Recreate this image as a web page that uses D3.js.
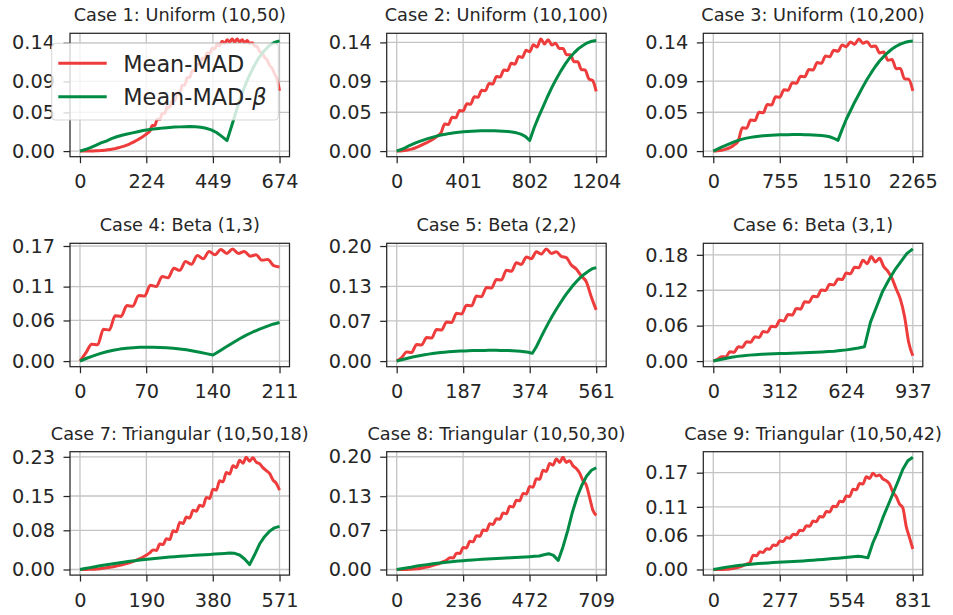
<!DOCTYPE html>
<html>
<head>
<meta charset="utf-8">
<script src="https://cdn.jsdelivr.net/npm/d3@7"></script>
<style>
  html, body { margin: 0; padding: 0; background: #ffffff; }
  svg { display: block; font-family: "DejaVu Sans", sans-serif; }
</style>
</head>
<body>
<svg id="chart" width="953" height="615"></svg>
<script>
// ---- data ---------------------------------------------------------------
const caseTitles = [
  "Case 1: Uniform (10,50)", "Case 2: Uniform (10,100)", "Case 3: Uniform (10,200)",
  "Case 4: Beta (1,3)", "Case 5: Beta (2,2)", "Case 6: Beta (3,1)",
  "Case 7: Triangular (10,50,18)", "Case 8: Triangular (10,50,30)", "Case 9: Triangular (10,50,42)"
];
const caseXMax = [674, 1204, 2265, 211, 561, 937, 571, 709, 831];
const xTickLabels = [
  [0, 224, 449, 674], [0, 401, 802, 1204], [0, 755, 1510, 2265],
  [0, 70, 140, 211], [0, 187, 374, 561], [0, 312, 624, 937],
  [0, 190, 380, 571], [0, 236, 472, 709], [0, 277, 554, 831]
];
const yTickLabels = [
  [0, 0.05, 0.09, 0.14], [0, 0.05, 0.09, 0.14], [0, 0.05, 0.09, 0.14],
  [0, 0.06, 0.11, 0.17], [0, 0.07, 0.13, 0.20], [0, 0.06, 0.12, 0.18],
  [0, 0.08, 0.15, 0.23], [0, 0.07, 0.13, 0.20], [0, 0.06, 0.11, 0.17]
];
const seriesNames = ["Mean-MAD", "Mean-MAD-"];

// each series is sampled at evenly spaced points from 0 to the case's x maximum
const madCase1 = [0,0,0,0,0.0001,0.0001,0.0003,0.0004,0.0006,0.0008,0.0012,0.0016,0.0020,0.0026,0.0032,0.0040,0.0048,0.0058,0.0068,0.0080,0.0094,0.0109,0.0125,0.0143,0.0162,0.0183,0.0206,0.0231,0.0257,
  0.033,0.033,0.041,0.041,0.049,0.049,0.057,0.057,0.065,0.065,0.075,0.075,0.085,0.085,0.095,0.095,0.104,0.104,0.112,0.112,0.120,0.120,0.127,0.126,0.133,0.132,0.138,0.136,0.142,0.139,0.144,0.141,0.145,0.141,0.145,0.141,0.144,0.140,0.143,0.139,0.140,0.136,0.135,0.129,0.127,0.121,0.118,0.111,0.107,0.100,0.093,0.078];
const madBetaCase1 = [0,0.002,0.0045,0.0075,0.0105,0.013,0.016,0.0185,0.0205,0.022,0.0235,0.025,0.0265,0.0275,0.0285,0.0293,0.030,0.0305,0.031,0.0313,0.0316,0.0318,0.0315,0.0308,0.0295,0.0275,0.024,0.019,0.0135,0.035,0.057,0.077,0.094,0.108,0.120,0.129,0.136,0.1405,0.1425];

const madCase2 = [0,0.0002,0.0006,0.0013,0.0025,0.0040,0.0060,0.0082,0.0105,0.0130,0.0160,0.0195,0.0235,0.0350,0.0343,0.0437,0.0430,0.0524,0.0517,0.0610,0.0603,0.0700,0.0693,0.0785,0.0778,0.0870,0.0863,0.0960,0.0953,0.1046,0.1038,0.1130,0.1120,0.1220,0.1205,0.1300,0.1280,0.1370,0.1340,0.1445,0.1380,0.1435,0.1365,0.1390,0.1320,0.1320,0.1240,0.1240,0.1150,0.1150,0.1050,0.1045,0.0930,0.0910,0.0770];
const madBetaCase2 = [0,0.002,0.0045,0.0075,0.0100,0.0122,0.0142,0.0160,0.0177,0.0193,0.0207,0.0218,0.0228,0.0236,0.0243,0.0249,0.0253,0.0257,0.0260,0.0262,0.0263,0.0263,0.0262,0.0260,0.0257,0.0252,0.0245,0.0235,0.0218,0.0190,0.0136,0.030,0.044,0.057,0.070,0.082,0.093,0.103,0.112,0.120,0.1265,0.132,0.136,0.1395,0.1415,0.1425];

const madCase3 = [0,0.0003,0.0010,0.0025,0.0045,0.0078,0.0130,0.0300,0.0295,0.0400,0.0393,0.0500,0.0493,0.0600,0.0593,0.0700,0.0693,0.0790,0.0783,0.0880,0.0873,0.0965,0.0958,0.1050,0.1043,0.1140,0.1130,0.1225,0.1215,0.1300,0.1285,0.1365,0.1345,0.1405,0.1375,0.1445,0.1390,0.1410,0.1345,0.1355,0.1265,0.1275,0.1170,0.1180,0.1060,0.1065,0.0930,0.0925,0.0775];
const madBetaCase3 = [0,0.0025,0.0051,0.0075,0.0097,0.0118,0.0138,0.0154,0.0167,0.0177,0.0186,0.0192,0.0197,0.0201,0.0204,0.0207,0.0209,0.0211,0.0212,0.0213,0.0213,0.0213,0.0212,0.0210,0.0208,0.0205,0.0201,0.0195,0.0185,0.0165,0.0138,0.028,0.041,0.052,0.063,0.073,0.083,0.0925,0.101,0.109,0.116,0.122,0.127,0.1315,0.135,0.1378,0.1398,0.1412,0.1418];

const madCase4 = [0,0.012,0.025,0.024,0.047,0.046,0.067,0.066,0.082,0.081,0.097,0.096,0.112,0.110,0.125,0.123,0.137,0.134,0.147,0.143,0.156,0.151,0.162,0.157,0.165,0.159,0.1657,0.159,0.162,0.155,0.157,0.149,0.150,0.141,0.139];
const madBetaCase4 = [0,0.0042,0.0076,0.0110,0.0138,0.0160,0.0177,0.0190,0.0198,0.0203,0.0206,0.0205,0.0202,0.0197,0.0189,0.0179,0.0166,0.0150,0.0131,0.0110,0.0089,0.0150,0.0212,0.0272,0.0330,0.0383,0.0430,0.0472,0.0508,0.0545,0.0570];

const madCase5 = [0,0.006,0.016,0.015,0.029,0.028,0.041,0.040,0.055,0.054,0.068,0.067,0.083,0.082,0.097,0.096,0.113,0.112,0.128,0.127,0.142,0.141,0.158,0.156,0.171,0.168,0.181,0.178,0.190,0.186,0.195,0.187,0.190,0.182,0.180,0.167,0.160,0.148,0.138,0.112,0.089];
const madBetaCase5 = [0,0.0019,0.0037,0.0054,0.0070,0.0085,0.0098,0.0110,0.0121,0.0131,0.0140,0.0148,0.0155,0.0161,0.0166,0.0170,0.0174,0.0177,0.0180,0.0182,0.0184,0.0185,0.0186,0.0187,0.0187,0.0187,0.0186,0.0185,0.0183,0.0180,0.0176,0.0171,0.0164,0.0154,0.0135,0.0250,0.0390,0.0530,0.0660,0.0785,0.0900,0.1010,0.1115,0.1210,0.1300,0.1380,0.1450,0.1510,0.1560,0.1605,0.1625];

const madCase6 = [0,0.003,0.0074,0.007,0.0158,0.015,0.0243,0.0235,0.0328,0.032,0.0413,0.040,0.050,0.049,0.059,0.058,0.069,0.068,0.079,0.078,0.089,0.088,0.1005,0.0995,0.110,0.109,0.1205,0.1195,0.130,0.129,0.139,0.138,0.149,0.148,0.159,0.158,0.171,0.165,0.177,0.168,0.174,0.160,0.152,0.140,0.122,0.105,0.076,0.032,0.009];
const madBetaCase6 = [0,0.0022,0.0045,0.0065,0.0080,0.0092,0.0101,0.0108,0.0114,0.0119,0.0123,0.0127,0.0130,0.0133,0.0137,0.0141,0.0145,0.0150,0.0155,0.0161,0.0168,0.0178,0.0190,0.0205,0.0222,0.0243,0.066,0.092,0.118,0.137,0.154,0.168,0.182,0.190];

const madCase7 = [0,0,0.0001,0.0003,0.0005,0.0010,0.0017,0.0025,0.0035,0.0046,0.0058,0.0071,0.0085,0.0102,0.0120,0.0142,0.0165,0.0192,0.0220,0.0255,0.0295,0.0340,0.0400,0.0390,0.0520,0.0510,0.0630,0.0610,0.0790,0.0770,0.0960,0.0940,0.1070,0.1050,0.1210,0.1190,0.1310,0.1290,0.1470,0.1450,0.1640,0.1620,0.1810,0.1790,0.1980,0.1950,0.2120,0.2080,0.2230,0.2170,0.2290,0.2210,0.2280,0.2190,0.2160,0.2080,0.2020,0.1960,0.1830,0.1760,0.1620];
const madBetaCase7 = [0,0.0019,0.0038,0.0057,0.0075,0.0092,0.0108,0.0124,0.0139,0.0153,0.0167,0.0180,0.0192,0.0204,0.0215,0.0225,0.0235,0.0244,0.0253,0.0261,0.0269,0.0276,0.0283,0.0290,0.0296,0.0302,0.0308,0.0314,0.0320,0.0328,0.0335,0.0330,0.0295,0.0215,0.0100,0.0300,0.0520,0.0670,0.0780,0.0850,0.0880];

const madCase8 = [0,0,0.0001,0.0002,0.0005,0.0008,0.0013,0.0019,0.0030,0.0042,0.0056,0.0072,0.0090,0.0110,0.0140,0.0165,0.0210,0.0205,0.0290,0.0285,0.0390,0.0383,0.0500,0.0490,0.0600,0.0590,0.0700,0.0690,0.0810,0.0800,0.0900,0.0890,0.1000,0.0990,0.1120,0.1110,0.1230,0.1220,0.1350,0.1340,0.1470,0.1460,0.1610,0.1600,0.1760,0.1740,0.1880,0.1850,0.1960,0.1900,0.1990,0.1900,0.1930,0.1840,0.1790,0.1710,0.1580,0.1500,0.1280,0.1050,0.0960];
const madBetaCase8 = [0,0.0014,0.0028,0.0041,0.0056,0.0069,0.0082,0.0094,0.0105,0.0115,0.0124,0.0133,0.0141,0.0149,0.0156,0.0163,0.0169,0.0175,0.0181,0.0186,0.0191,0.0196,0.0200,0.0204,0.0208,0.0212,0.0217,0.0222,0.0228,0.0234,0.0240,0.0260,0.0280,0.0250,0.0160,0.0400,0.0690,0.1020,0.1290,0.1500,0.1660,0.1760,0.1805];

const madCase9 = [0,0,0.0001,0.0002,0.0005,0.0008,0.0018,0.0030,0.0048,0.0070,0.0095,0.0120,0.0250,0.0240,0.0310,0.0300,0.0365,0.0355,0.0430,0.0420,0.0500,0.0490,0.0560,0.0550,0.0620,0.0610,0.0690,0.0680,0.0770,0.0760,0.0850,0.0840,0.0930,0.0920,0.1020,0.1010,0.1110,0.1100,0.1200,0.1190,0.1290,0.1280,0.1410,0.1400,0.1510,0.1500,0.1630,0.1600,0.1690,0.1640,0.1660,0.1590,0.1560,0.1500,0.1360,0.1280,0.1150,0.1080,0.0760,0.0560,0.0360];
const madBetaCase9 = [0,0.0015,0.0031,0.0046,0.0059,0.0070,0.0080,0.0089,0.0097,0.0104,0.0110,0.0116,0.0121,0.0126,0.0130,0.0134,0.0139,0.0144,0.0150,0.0156,0.0162,0.0169,0.0176,0.0184,0.0191,0.0199,0.0207,0.0215,0.0223,0.0232,0.0222,0.0205,0.0470,0.0670,0.0910,0.1120,0.1330,0.1540,0.1760,0.1910,0.1970];

const madSeries = [madCase1, madCase2, madCase3, madCase4, madCase5, madCase6, madCase7, madCase8, madCase9];
const madBetaSeries = [madBetaCase1, madBetaCase2, madBetaCase3, madBetaCase4, madBetaCase5, madBetaCase6, madBetaCase7, madBetaCase8, madBetaCase9];

// ---- layout & style -----------------------------------------------------
const colLeft = [70, 386.7, 703.3];
const rowTop = [33.3, 243.3, 451.7];
const panelW = 219.5, panelH = 123.4;
const lineColors = ["#EE3B3B", "#008B45"];
const lineCurves = [d3.curveMonotoneX, d3.curveLinear];
const ink = "#262626";
const gridColor = "#c4c4c4";
const lineWidth = 3;

const svg = d3.select("#chart");

caseTitles.forEach((title, k) => {
  const left = colLeft[k % 3];
  const top = rowTop[Math.floor(k / 3)];
  const xMax = caseXMax[k];
  const series = [madSeries[k], madBetaSeries[k]];
  const yMax = d3.max(series.flat());

  const x = d3.scaleLinear().domain([-0.05 * xMax, 1.05 * xMax]).range([left, left + panelW]);
  const y = d3.scaleLinear().domain([-0.05 * yMax, 1.05 * yMax]).range([top + panelH, top]);

  const g = svg.append("g").attr("class", "panel");

  // grid
  g.append("g").selectAll("line").data(xTickLabels[k]).join("line")
    .attr("x1", d => x(d)).attr("x2", d => x(d))
    .attr("y1", top).attr("y2", top + panelH)
    .attr("stroke", gridColor).attr("stroke-width", 1.3);
  g.append("g").selectAll("line").data(yTickLabels[k]).join("line")
    .attr("x1", left).attr("x2", left + panelW)
    .attr("y1", d => y(d)).attr("y2", d => y(d))
    .attr("stroke", gridColor).attr("stroke-width", 1.3);

  // series
  series.forEach((vals, s) => {
    const line = d3.line()
      .curve(lineCurves[s])
      .x((d, i, arr) => x(i * xMax / (arr.length - 1)))
      .y(d => y(d));
    g.append("path")
      .datum(vals)
      .attr("d", line)
      .attr("fill", "none")
      .attr("stroke", lineColors[s])
      .attr("stroke-width", lineWidth)
      .attr("stroke-linejoin", "round")
      .attr("stroke-linecap", "butt");
  });

  // frame
  g.append("rect")
    .attr("x", left).attr("y", top)
    .attr("width", panelW).attr("height", panelH)
    .attr("fill", "none").attr("stroke", ink).attr("stroke-width", 1.25);

  // axes
  const xAxis = d3.axisBottom(x).tickValues(xTickLabels[k]).tickFormat(d3.format("d"))
    .tickSizeInner(6.5).tickSizeOuter(0).tickPadding(11.5);
  const yAxis = d3.axisLeft(y).tickValues(yTickLabels[k]).tickFormat(d3.format(".2f"))
    .tickSizeInner(6.5).tickSizeOuter(0).tickPadding(8.5);

  const gx = g.append("g").attr("transform", `translate(0,${top + panelH})`).call(xAxis);
  const gy = g.append("g").attr("transform", `translate(${left},0)`).call(yAxis);
  [gx, gy].forEach(ax => {
    ax.select(".domain").remove();
    ax.selectAll(".tick line").attr("stroke", ink).attr("stroke-width", 1.25);
    ax.selectAll(".tick text")
      .attr("fill", ink)
      .style("font-family", '"DejaVu Sans", sans-serif')
      .style("font-size", "19.3px");
  });

  // title
  g.append("text")
    .attr("x", left + panelW / 2).attr("y", top - 12)
    .attr("text-anchor", "middle")
    .attr("fill", ink)
    .style("font-size", "17.7px")
    .text(title);

  // legend (first panel only)
  if (k === 0) {
    const lg = svg.append("g").attr("class", "legend");
    lg.append("rect")
      .attr("x", left - 18.3).attr("y", top + 10)
      .attr("width", 226.6).attr("height", 76.7)
      .attr("rx", 3.5)
      .attr("fill", "#ffffff").attr("fill-opacity", 0.8)
      .attr("stroke", "#cccccc").attr("stroke-opacity", 0.8).attr("stroke-width", 1);
    seriesNames.forEach((name, s) => {
      const cy = top + 30 + s * 33.4;
      lg.append("line")
        .attr("x1", left - 11.7).attr("x2", left + 36.7)
        .attr("y1", cy).attr("y2", cy)
        .attr("stroke", lineColors[s]).attr("stroke-width", lineWidth);
      const t = lg.append("text")
        .attr("x", left + 53.3).attr("y", cy + 8.3)
        .attr("fill", ink)
        .style("font-size", "22.4px")
        .text(name);
      if (s === 1) t.append("tspan").style("font-style", "italic").text("β");
    });
  }
});
</script>
</body>
</html>
